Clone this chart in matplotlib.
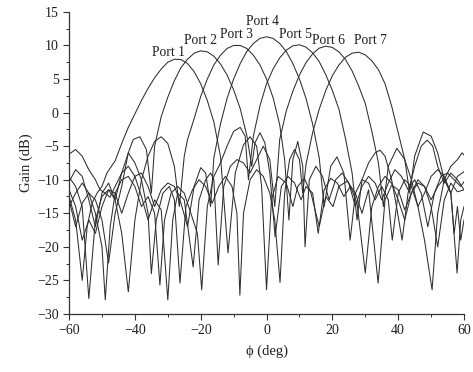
import matplotlib
matplotlib.use("Agg")
import matplotlib.pyplot as plt
from matplotlib.ticker import MultipleLocator

# beam patterns, (phi in deg, gain in dB)
port1_phi = [-60, -58, -56, -54.5, -53, -51.5, -50, -48.5, -46, -44, -42, -40, -38, -36, -34, -32, -30, -28, -26, -24, -22, -20, -18, -16, -14, -11.7, -9.5, -7, -5, -3, -1.5, 0, 1.5, 3.5, 6, 8, 9.5, 11.5, 13.5, 16, 18, 20.2, 22, 24.5, 27, 29, 31, 33.9, 36, 38, 40, 42, 44, 46, 48, 50, 52, 54, 56, 58, 60]
port1_gain = [-12.5, -16, -25, -17, -13.5, -12, -11, -9, -7.2, -4.6, -2.2, -0.2, 1.8, 3.6, 5.2, 6.5, 7.5, 7.95, 7.9, 7.3, 6.1, 4.3, 1.8, -1.4, -6.5, -20.9, -9, -4.8, -3.6, -5, -11, -26.4, -13, -9.5, -10.5, -14, -11, -9.8, -12, -17, -12.5, -14, -11, -10.2, -12, -15, -11.5, -25.4, -13, -10.8, -11.5, -14.5, -12, -10, -11, -14, -20, -13, -10.5, -11.8, -11.5]

port2_phi = [-60, -58, -56, -54, -52, -50, -48, -46, -44, -42, -40.5, -38.5, -36.5, -35, -34, -32, -30, -28, -26, -24, -22, -20, -18, -16, -14, -12, -10, -8, -6, -4.5, -3.5, -2, -0.5, 1, 2.6, 4.5, 6.5, 8.5, 10.5, 12, 14, 15.7, 17.5, 19.5, 21.5, 23.5, 25.5, 27.5, 30, 32, 34, 36, 38, 40, 42, 44, 46, 48, 50, 52, 54, 56, 57.9, 59, 60]
port2_gain = [-11.5, -14, -19, -16, -18, -14, -11.5, -13, -9, -6, -4, -3.6, -5.5, -12, -5, -0.6, 2.3, 4.75, 6.7, 7.95, 8.85, 9.2, 9.05, 8.4, 7.25, 5.6, 3.4, 0.6, -3.4, -8, -4.5, -3, -4.5, -9, -18.5, -11, -9.5, -10.5, -13, -11, -12, -18, -11.5, -9.8, -10.5, -12.5, -11, -13.5, -23.9, -14, -11, -9.5, -10.5, -13, -16, -12, -10.5, -11, -13, -11, -9.8, -12, -23.9, -16, -14]

port3_phi = [-60, -58, -56, -54, -52, -50, -48, -46, -44, -42, -40, -38, -36, -34, -32, -30, -28, -26.5, -25, -24, -22, -20, -18, -16, -14, -12, -10, -8, -6, -4, -2, 0, 2, 4, 5.5, 6.8, 8, 9.5, 11, 11.7, 13, 15, 17, 19, 21, 23, 25, 27, 29, 31, 33, 35, 37, 39, 41, 43, 45, 47, 49, 51, 53, 55, 57, 59, 60]
port3_gain = [-10.3, -8.5, -9.5, -13, -17, -12, -10.5, -13, -18, -26.7, -16, -10, -6.5, -4.3, -3.6, -4.6, -8, -14, -6.5, -4, -0.9, 2.4, 5.0, 7.1, 8.55, 9.55, 10.0, 10.0, 9.55, 8.55, 7.1, 5.0, 2.2, -1.8, -7, -16, -7, -4.3, -8, -20, -10, -8, -9.5, -13, -10, -9, -10.5, -14, -11, -9.5, -10.5, -13, -10.5, -8.5, -9.5, -11.5, -10, -12, -17, -12, -9.5, -9, -10, -11, -10.3]

port4_phi = [-60, -58, -56, -54, -52, -50, -48, -46, -44, -42, -40, -38, -36, -34, -32, -30, -28, -26, -24, -22, -20, -18.5, -17, -16, -14, -12, -10, -8, -6, -4, -2, 0, 2, 4, 6, 8, 10, 12, 14, 16, 17.5, 19.5, 21.4, 23.5, 25.4, 27, 29, 31, 33, 35, 37, 38.2, 40, 42, 44, 46, 48, 50, 52, 54, 56, 58, 60]
port4_gain = [-9.6, -11, -14, -27.7, -16, -12.5, -11.5, -12, -15, -12, -9.5, -9, -11, -14, -11.5, -10.5, -11, -13.5, -17, -11, -8.2, -9, -14, -6.7, -1.7, 2.1, 5.0, 7.3, 9.1, 10.3, 11.05, 11.3, 11.05, 10.3, 9.1, 7.3, 5.0, 2.1, -1.7, -6.7, -14, -8, -6.6, -9, -19, -12, -10, -10.5, -13, -11, -13, -19, -12, -10, -11, -14, -12, -9.5, -8.5, -9.5, -12, -9.5, -8.8]

port5_phi = [-60, -58, -56, -54, -52, -50, -49, -47.5, -46, -44, -42, -40, -38, -36, -34, -32.4, -31, -29, -27, -25, -23, -21, -19.7, -18, -16, -14, -12, -10, -8, -6.5, -5.5, -4, -2, 0, 2, 4, 6, 8, 10, 12, 14, 16, 18, 20, 22, 24, 26, 27.5, 29, 31, 33, 34.5, 36, 38, 39.5, 41.2, 43, 45, 47, 48.8, 50.5, 52, 54, 56, 58, 60]
port5_gain = [-14, -12, -10.5, -12, -15, -20, -27.9, -17, -12, -10, -9.5, -11, -14, -12.5, -15, -25.7, -16, -12, -11, -12, -15, -18, -26.4, -14, -9.5, -7.5, -5, -2.8, -2.2, -3.5, -10, -3.5, 1.0, 4.3, 6.5, 8.15, 9.3, 9.95, 10.1, 9.75, 8.9, 7.6, 5.65, 3.3, 0.5, -3.9, -9, -16, -10, -7.5, -6, -5.6, -6.5, -10, -14, -19, -12, -8, -5, -4.1, -5, -8, -10.5, -9, -10, -11.5]

port6_phi = [-60, -58, -56, -54, -52, -50.6, -49, -47.6, -46, -44, -42, -40, -38, -36, -34, -32, -30, -28.5, -27, -25, -22.3, -20.5, -18.5, -17, -16, -14.7, -13, -11, -9, -7, -5, -3, -1, 1, 2.5, 4, 6, 8, 10, 12, 14, 16, 18, 20, 22, 24, 26, 28, 30, 32, 34, 35.5, 37, 39.6, 42, 44, 46, 48, 50.3, 52, 54, 56, 58, 59.4, 60]
port6_gain = [-6.2, -5.5, -6.5, -8.5, -10, -11.5, -12, -12.6, -11, -9, -8, -9.5, -12.5, -16, -13, -14.5, -27.9, -16, -12, -13, -23, -13, -10, -9, -10, -22.7, -11, -8, -7, -7.5, -9, -7, -5, -7, -14, -4.0, 0.25, 3.2, 5.6, 7.45, 8.75, 9.6, 9.9, 9.7, 9.05, 7.9, 6.2, 3.95, 1.35, -2.8, -7.5, -14, -8, -5.3, -7, -10, -14, -19, -26.4, -15, -10, -8, -7, -6, -6.3]

port7_phi = [-60, -58, -56, -54, -52, -50, -48, -46, -44, -42, -40, -38, -36, -35, -33.5, -31.5, -29.5, -28, -26.3, -24.5, -22.5, -20.5, -18.5, -16.5, -14.5, -12.5, -10.5, -9, -8.1, -7, -5, -3, -1, 1, 2.5, 4.1, 5.5, 7, 8.5, 10, 11, 12, 14, 16, 18, 20, 22, 24, 26, 28, 30, 32, 34, 36, 38, 40, 42, 43.5, 45, 47.6, 50, 52, 54, 56, 57, 58, 59, 60]
port7_gain = [-13, -17, -13.5, -12, -13, -16, -22.4, -15, -11, -6, -7.5, -10, -15, -24, -16, -12, -11, -13, -25.4, -14, -11.5, -10, -11, -13.5, -11, -9.5, -11, -15, -27.2, -15, -10, -8.5, -9.5, -12, -16, -25.3, -12, -7, -5.5, -7, -12, -7.7, -3.0, 0.5, 3.3, 5.5, 7.1, 8.25, 8.85, 9.0, 8.6, 7.7, 6.4, 4.3, 1.0, -3.0, -7, -12, -6.5, -2.9, -3.5, -6, -10, -12, -18, -14, -19, -16]

ports = [(port1_phi, port1_gain), (port2_phi, port2_gain), (port3_phi, port3_gain),
         (port4_phi, port4_gain), (port5_phi, port5_gain), (port6_phi, port6_gain),
         (port7_phi, port7_gain)]

labels = ["Port 1", "Port 2", "Port 3", "Port 4", "Port 5", "Port 6", "Port 7"]
label_x = [-29.9, -20.1, -9.1, -1.1, 8.8, 18.8, 31.5]
label_y = [9.0, 10.7, 11.7, 13.5, 11.6, 10.8, 10.8]

plt.rcParams['font.family'] = ['Liberation Serif', 'DejaVu Serif']

fig = plt.figure(figsize=(4.73, 3.72), dpi=100)
ax = fig.add_axes([0.146, 0.156, 0.835, 0.812])

for phi, gain in ports:
    ax.plot(phi, gain, color='#2e2e2e', lw=0.75)

for name, lx, ly in zip(labels, label_x, label_y):
    ax.text(lx, ly, name, ha='center', va='center', fontsize=9.8, color='#1e1e2a')

ax.set_xlim(-60, 60)
ax.set_ylim(-30, 15)
ax.xaxis.set_major_locator(MultipleLocator(20))
ax.xaxis.set_minor_locator(MultipleLocator(10))
ax.yaxis.set_major_locator(MultipleLocator(5))
ax.yaxis.set_minor_locator(MultipleLocator(2.5))
ax.tick_params(which='major', direction='out', length=4, width=0.8, labelsize=10, colors='#333333', labelcolor='#1e1e2a')
ax.tick_params(which='minor', direction='out', length=2.5, width=0.7, colors='#333333')
for s in ['top', 'right']:
    ax.spines[s].set_visible(False)
for s in ['left', 'bottom']:
    ax.spines[s].set_color('#333333')
    ax.spines[s].set_linewidth(0.9)

ax.set_xlabel("\u03d5 (deg)", fontsize=10.5, color='#1e1e2a', labelpad=5)
ax.set_ylabel("Gain (dB)", fontsize=10.5, color='#1e1e2a', labelpad=3)

fig.savefig("out.png", dpi=100)
